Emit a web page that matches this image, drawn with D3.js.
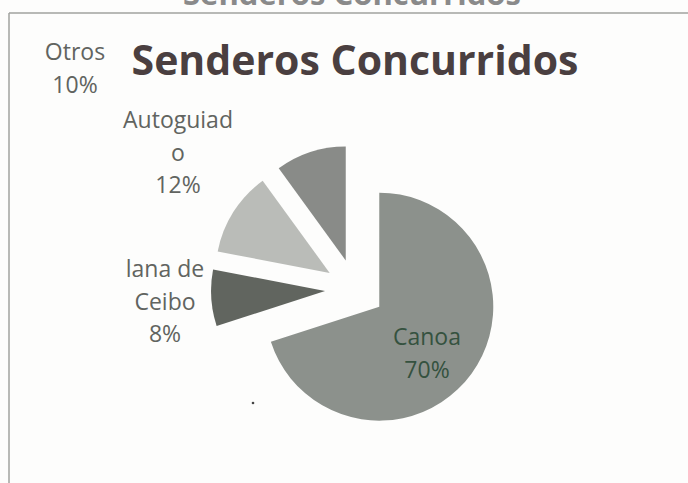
<!DOCTYPE html>
<html>
<head>
<meta charset="utf-8">
<script src="https://cdn.jsdelivr.net/npm/d3@7"></script>
<style>
  body { margin: 0; background: #fdfdfc; }
  svg { display: block; font-family: "Open Sans", Lato, sans-serif; }
</style>
</head>
<body>
<div id="chart"></div>
<script>
// data
var categories = ["Canoa", "lana de Ceibo", "Autoguiado", "Otros"];
var values = [70, 8, 12, 10];
var labelLines = [["Canoa", "70%"], ["lana de", "Ceibo", "8%"], ["Autoguiad", "o", "12%"], ["Otros", "10%"]];
var colors = ["#8c918c", "#61655f", "#babcb8", "#898b88"];
var labelColors = ["#35523f", "#616460", "#616460", "#616460"];
// where each label block sits (top line baseline)
var labelAnchors = [[427, 345], [165, 277], [178, 128], [75, 60]];

var w = 688, h = 483;
var cx = 355, cy = 289, r = 114, explode = 30;

var svg = d3.select("#chart").append("svg")
  .attr("width", w)
  .attr("height", h);

svg.append("rect")
  .attr("width", w)
  .attr("height", h)
  .attr("fill", "#fdfdfc");

// chart frame
svg.append("line")
  .attr("x1", 9).attr("y1", 13).attr("x2", w).attr("y2", 13)
  .attr("stroke", "#a0a29f").attr("stroke-width", 1.5);
svg.append("line")
  .attr("x1", 9).attr("y1", 13).attr("x2", 9).attr("y2", h)
  .attr("stroke", "#a0a29f").attr("stroke-width", 1.5);

// cut off heading above the frame
svg.append("text")
  .attr("x", 352).attr("y", 5)
  .attr("text-anchor", "middle")
  .attr("font-size", 31).attr("font-weight", "bold")
  .attr("fill", "#8a8a8a")
  .text("Senderos Concurridos");

// title
svg.append("text")
  .attr("x", 355).attr("y", 75)
  .attr("text-anchor", "middle")
  .attr("font-size", 41).attr("font-weight", "bold")
  .attr("fill", "#4a3f40")
  .text("Senderos Concurridos");

var pie = d3.pie().sort(null);
var arc = d3.arc().innerRadius(0).outerRadius(r);
var arcs = pie(values);

svg.append("g")
  .attr("transform", "translate(" + cx + "," + cy + ")")
  .selectAll("path")
  .data(arcs)
  .enter()
  .append("path")
  .attr("d", arc)
  .attr("transform", function(d) {
    var mid = (d.startAngle + d.endAngle) / 2;
    return "translate(" + (Math.sin(mid) * explode) + "," + (-Math.cos(mid) * explode) + ")";
  })
  .attr("fill", function(d, i) { return colors[i]; });

// data labels
var labels = svg.selectAll("text.lbl")
  .data(categories)
  .enter()
  .append("text")
  .attr("class", "lbl")
  .attr("text-anchor", "middle")
  .attr("font-size", 23)
  .attr("fill", function(d, i) { return labelColors[i]; });

labels.each(function(d, i) {
  var t = d3.select(this);
  labelLines[i].forEach(function(line, j) {
    t.append("tspan")
      .attr("x", labelAnchors[i][0])
      .attr("y", labelAnchors[i][1] + j * 32.5)
      .text(line);
  });
});

// speck of dust on the scan
svg.append("circle")
  .attr("cx", 253).attr("cy", 403).attr("r", 1.3)
  .attr("fill", "#444");
</script>
</body>
</html>
